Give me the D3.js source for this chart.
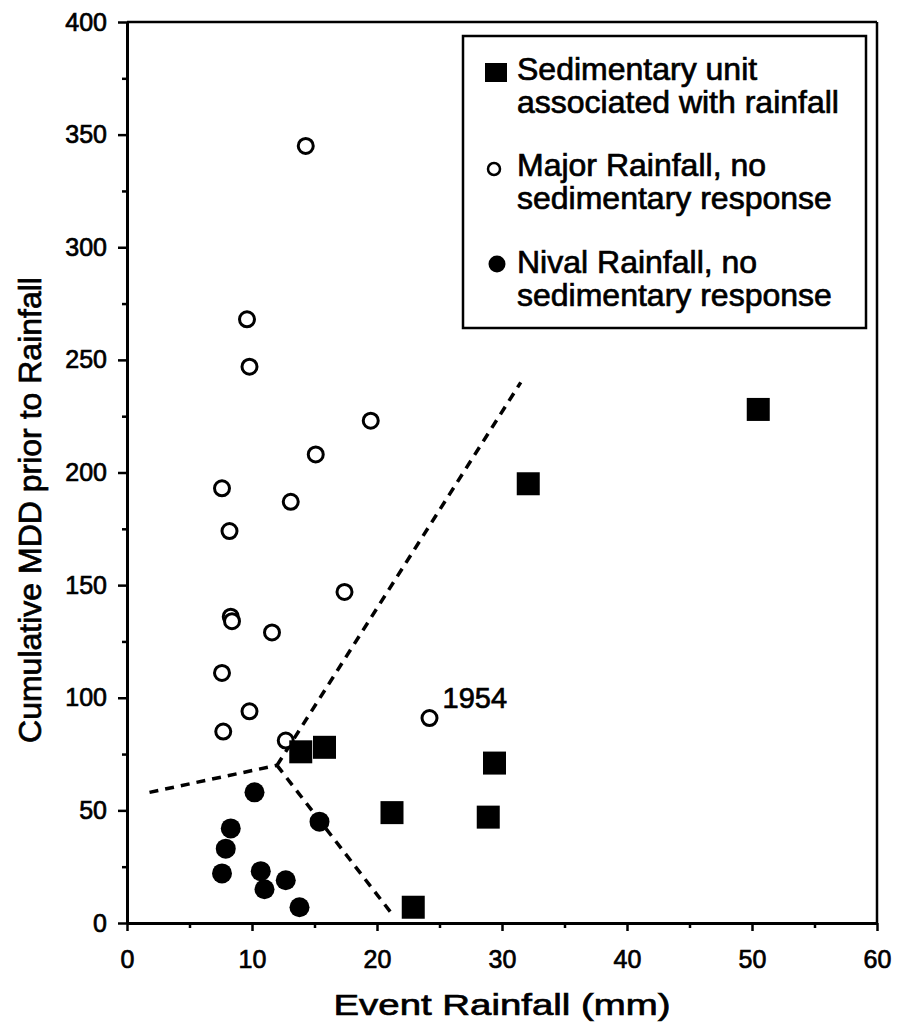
<!DOCTYPE html>
<html>
<head>
<meta charset="utf-8">
<script src="https://cdn.jsdelivr.net/npm/d3@7"></script>
<style>
  body { margin: 0; background: #fff; }
  text { font-family: "Liberation Sans", Arial, sans-serif; fill: #000; stroke: #000; stroke-width: 0.7px; }
</style>
</head>
<body>
<svg id="chart"></svg>
<script>
// tick values
const xTicks = [0, 10, 20, 30, 40, 50, 60];
const yTicks = [0, 50, 100, 150, 200, 250, 300, 350, 400];
const xMinor = [5, 15, 25, 35, 45, 55];
const yMinor = [25, 75, 125, 175, 225, 275, 325, 375];

// sedimentary unit associated with rainfall (squares)
const sedRain = [13.9, 15.8, 29.4, 21.2, 28.9, 22.9, 32.1, 50.5];
const sedMDD  = [76, 78, 71, 49, 47, 7, 195, 228];

// major rainfall, no sedimentary response (open circles)
const majorRain = [14.3, 9.6, 9.8, 19.5, 15.1, 7.6, 13.1, 8.2, 17.4, 8.3, 8.4, 11.6, 7.6, 9.8, 7.7, 12.7, 24.2];
const majorMDD  = [345, 268, 247, 223, 208, 193, 187, 174, 147, 136, 134, 129, 111, 94, 85, 81, 91];

// nival rainfall, no sedimentary response (filled circles)
const nivalRain = [10.2, 15.4, 8.3, 7.9, 7.6, 10.7, 12.7, 11.0, 13.8];
const nivalMDD  = [58, 45, 42, 33, 22, 23, 19, 15, 7];

// dashed boundary lines [rain, MDD]
const boundaryLines = [
  [[1.8, 58], [12, 70]],
  [[12, 70], [31.5, 240]],
  [[12, 70], [21.2, 4]]
];

const legendLabels = [
  ["Sedimentary unit", "associated with rainfall"],
  ["Major Rainfall, no", "sedimentary response"],
  ["Nival Rainfall, no", "sedimentary response"]
];

const annotation = { rain: 24.2, mdd: 91, label: "1954" };

const width = 899, height = 1032;

const svg = d3.select("#chart")
  .attr("width", width)
  .attr("height", height)
  .attr("viewBox", [0, 0, width, height]);

const x = d3.scaleLinear([0, 60], [127, 877]);
const y = d3.scaleLinear([0, 400], [923, 22]);

// frame top/right
svg.append("line")
  .attr("x1", x(0)).attr("x2", x(60))
  .attr("y1", y(400)).attr("y2", y(400))
  .attr("stroke", "#000").attr("stroke-width", 2.5);
svg.append("line")
  .attr("x1", x(60)).attr("x2", x(60))
  .attr("y1", y(400)).attr("y2", y(0))
  .attr("stroke", "#000").attr("stroke-width", 2.5);

// axes
svg.append("g")
  .attr("transform", `translate(0,${y(0)})`)
  .call(d3.axisBottom(x).tickValues(xTicks).tickSize(8).tickSizeOuter(0).tickPadding(19));
svg.append("g")
  .attr("transform", `translate(0,${y(0)})`)
  .call(d3.axisBottom(x).tickValues(xMinor).tickSize(5).tickSizeOuter(0).tickFormat(""));

svg.append("g")
  .attr("transform", `translate(${x(0)},0)`)
  .call(d3.axisLeft(y).tickValues(yTicks).tickSize(9).tickSizeOuter(0).tickPadding(11));
svg.append("g")
  .attr("transform", `translate(${x(0)},0)`)
  .call(d3.axisLeft(y).tickValues(yMinor).tickSize(5).tickSizeOuter(0).tickFormat(""));

svg.selectAll(".domain").attr("stroke", "#000").attr("stroke-width", 3);
svg.selectAll(".tick line").attr("stroke", "#000").attr("stroke-width", 2.5);
svg.selectAll(".tick text")
  .style("font-family", "'Liberation Sans', Arial, sans-serif")
  .style("font-size", "25px")
  .attr("fill", "#000");

// axis titles
svg.append("text")
  .attr("x", (x(0) + x(60)) / 2)
  .attr("y", 1015)
  .attr("text-anchor", "middle")
  .attr("textLength", 337)
  .attr("lengthAdjust", "spacingAndGlyphs")
  .style("font-size", "30px")
  .text("Event Rainfall (mm)");

svg.append("text")
  .attr("transform", "translate(41,510) rotate(-90)")
  .attr("text-anchor", "middle")
  .style("font-size", "32px")
  .text("Cumulative MDD prior to Rainfall");

// dashed lines
const line = d3.line().x(d => x(d[0])).y(d => y(d[1]));
svg.append("g")
  .selectAll("path")
  .data(boundaryLines)
  .join("path")
  .attr("d", line)
  .attr("fill", "none")
  .attr("stroke", "#000")
  .attr("stroke-width", 3.5)
  .attr("stroke-dasharray", "9,7");

// markers
svg.append("g")
  .selectAll("circle")
  .data(d3.zip(majorRain, majorMDD))
  .join("circle")
  .attr("cx", d => x(d[0]))
  .attr("cy", d => y(d[1]))
  .attr("r", 7.5)
  .attr("fill", "#fff")
  .attr("stroke", "#000")
  .attr("stroke-width", 3);

svg.append("g")
  .selectAll("circle")
  .data(d3.zip(nivalRain, nivalMDD))
  .join("circle")
  .attr("cx", d => x(d[0]))
  .attr("cy", d => y(d[1]))
  .attr("r", 10)
  .attr("fill", "#000");

const sq = 23;
svg.append("g")
  .selectAll("rect")
  .data(d3.zip(sedRain, sedMDD))
  .join("rect")
  .attr("x", d => x(d[0]) - sq / 2)
  .attr("y", d => y(d[1]) - sq / 2)
  .attr("width", sq)
  .attr("height", sq)
  .attr("fill", "#000");

// 1954 label
svg.append("text")
  .attr("x", x(annotation.rain) + 13)
  .attr("y", y(annotation.mdd) - 10)
  .style("font-size", "29px")
  .text(annotation.label);

// legend
const legend = svg.append("g");
legend.append("rect")
  .attr("x", 463).attr("y", 36)
  .attr("width", 403).attr("height", 292)
  .attr("fill", "#fff")
  .attr("stroke", "#000")
  .attr("stroke-width", 2.5);

const rowY = [80, 176, 273];
legendLabels.forEach((lines, i) => {
  legend.append("text")
    .attr("x", 517)
    .attr("y", rowY[i])
    .style("font-size", "32px")
    .selectAll("tspan")
    .data(lines)
    .join("tspan")
    .attr("x", 517)
    .attr("dy", (d, j) => j === 0 ? 0 : 33)
    .text(d => d);
});

legend.append("rect")
  .attr("x", 485).attr("y", 63)
  .attr("width", 22).attr("height", 19)
  .attr("fill", "#000");
legend.append("circle")
  .attr("cx", 494).attr("cy", 169)
  .attr("r", 6)
  .attr("fill", "#fff")
  .attr("stroke", "#000")
  .attr("stroke-width", 2.5);
legend.append("circle")
  .attr("cx", 497).attr("cy", 264)
  .attr("r", 8.5)
  .attr("fill", "#000");
</script>
</body>
</html>
